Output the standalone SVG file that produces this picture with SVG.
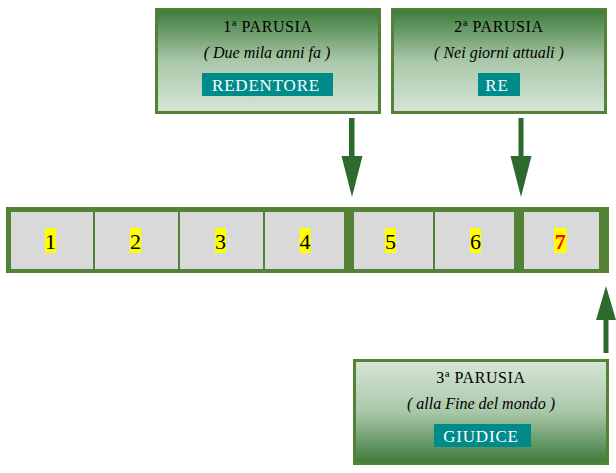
<svg xmlns="http://www.w3.org/2000/svg" width="616" height="473" viewBox="0 0 616 473">
<defs>
<linearGradient id="gDown" x1="0" y1="0" x2="0" y2="1">
<stop offset="0" stop-color="#3b7b3b"/>
<stop offset="0.5" stop-color="#a9c7a9"/>
<stop offset="1" stop-color="#d7e5d7"/>
</linearGradient>
<linearGradient id="gUp" x1="0" y1="1" x2="0" y2="0">
<stop offset="0" stop-color="#3b7b3b"/>
<stop offset="0.5" stop-color="#a9c7a9"/>
<stop offset="1" stop-color="#d7e5d7"/>
</linearGradient>
</defs>
<style>
.box{stroke:#538135;stroke-width:3}
text{font-family:'Liberation Serif','Times New Roman','DejaVu Serif',serif}
.t1{font-size:16px;fill:#000;text-anchor:middle;letter-spacing:0.6px}
.t2{font-size:16px;font-style:italic;fill:#000;text-anchor:middle}
.lab{fill:#008b8b}
.t3{font-size:17px;fill:#fff;text-anchor:middle;letter-spacing:0.8px}
.dot{fill:#2e7d2e}
.cell{fill:#d9d9d9}
.hl{fill:#ffff00}
.num{font-size:22px;fill:#000;text-anchor:middle}
.arrow{fill:#2d6a2d}
</style>
<g id="bar" font-family="Liberation Serif, serif">
<rect x="6" y="207" width="603" height="66" fill="#538135"/>
<rect class="cell" x="11" y="212" width="82" height="57"/>
<rect class="cell" x="95" y="212" width="83" height="57"/>
<rect class="cell" x="180" y="212" width="83" height="57"/>
<rect class="cell" x="265" y="212" width="79" height="57"/>
<rect class="cell" x="354" y="212" width="79" height="57"/>
<rect class="cell" x="435" y="212" width="79" height="57"/>
<rect class="cell" x="524" y="212" width="75" height="57"/>
<rect class="hl" x="45" y="228" width="11" height="25"/>
<rect class="hl" x="130" y="228" width="11" height="25"/>
<rect class="hl" x="215" y="228" width="11" height="25"/>
<rect class="hl" x="299.5" y="228" width="11" height="25"/>
<rect class="hl" x="385" y="228" width="11" height="25"/>
<rect class="hl" x="470" y="228" width="11" height="25"/>
<rect class="hl" x="554" y="228" width="12.5" height="25"/>
<text class="num" x="50.5" y="249">1</text>
<text class="num" x="135.5" y="249">2</text>
<text class="num" x="220.5" y="249">3</text>
<text class="num" x="305" y="249">4</text>
<text class="num" x="390.5" y="249">5</text>
<text class="num" x="475.5" y="249">6</text>
<text class="num" x="560.3" y="249" style="fill:#ff0000;font-weight:bold">7</text>
</g>
<g id="parusia1">
<rect class="box" x="156.5" y="9.5" width="223" height="103" fill="url(#gDown)"/>
<text class="t1" x="268" y="32">1ª PARUSIA</text>
<text class="t2" x="267" y="58">( Due mila anni fa )</text>
<rect class="lab" x="202" y="73" width="131" height="23"/>
<text class="t3" x="266" y="91">REDENTORE</text>
<rect class="dot" x="329.5" y="90" width="1.2" height="1.2"/>
</g>
<g id="parusia2">
<rect class="box" x="392.5" y="9.5" width="213" height="103" fill="url(#gDown)"/>
<text class="t1" x="499" y="32">2ª PARUSIA</text>
<text class="t2" x="499" y="58">( Nei giorni attuali )</text>
<rect class="lab" x="478" y="73" width="42" height="23"/>
<text class="t3" x="497" y="91">RE</text>
<rect class="dot" x="517.5" y="90" width="1.2" height="1.2"/>
</g>
<g id="parusia3">
<rect class="box" x="354.5" y="360.5" width="253" height="103" fill="url(#gUp)"/>
<text class="t1" x="481" y="383">3ª PARUSIA</text>
<text class="t2" x="481" y="409">( alla Fine del mondo )</text>
<rect class="lab" x="434" y="424" width="97" height="23"/>
<text class="t3" x="481" y="442">GIUDICE</text>
<rect class="dot" x="528.5" y="441" width="1.2" height="1.2"/>
</g>
<g id="connectors">
<polygon class="arrow" points="349,118 354.5,118 354.5,156 362.5,156 352,197 341.5,156 349,156"/>
<polygon class="arrow" points="518.5,118 523.5,118 523.5,156 531.5,156 521,197 510.5,156 518.5,156"/>
<polygon class="arrow" points="603.5,353 608.5,353 608.5,320 616,320 606,286 596,320 603.5,320"/>
</g>
</svg>
